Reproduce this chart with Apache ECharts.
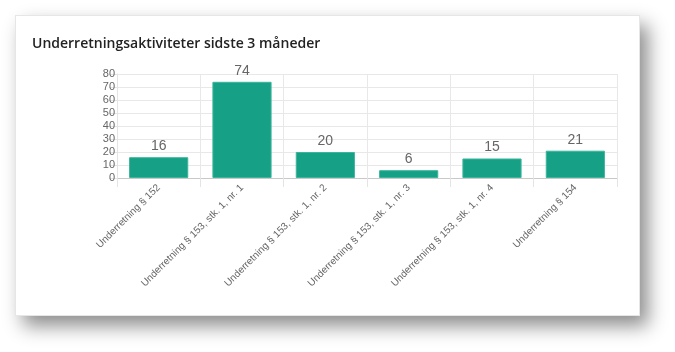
<!DOCTYPE html>
<html>
<head>
<meta charset="utf-8">
<script src="https://cdn.jsdelivr.net/npm/echarts@6/dist/echarts.min.js"></script>
<style>
  html, body { margin: 0; padding: 0; background: #fff; }
  body { width: 675px; height: 352px; position: relative; overflow: hidden; }
  .card {
    position: absolute; left: 15px; top: 15px; width: 625px; height: 301px;
    background: #fff; border: 1px solid #e6e6e6; box-sizing: border-box;
    box-shadow: 8px 10px 18px rgba(0, 0, 0, 0.45);
  }
  #chart { position: absolute; left: 0; top: 0; width: 675px; height: 352px; }
</style>
</head>
<body>
<div class="card"></div>
<div id="chart"></div>
<script>
const titleText = "Underretningsaktiviteter sidste 3 måneder";
const categories = [
  "Underretning § 152",
  "Underretning § 153, stk. 1, nr. 1",
  "Underretning § 153, stk. 1, nr. 2",
  "Underretning § 153, stk. 1, nr. 3",
  "Underretning § 153, stk. 1, nr. 4",
  "Underretning § 154",
];
const counts = [16, 74, 20, 6, 15, 21];

const chart = echarts.init(document.getElementById("chart"));
chart.setOption({
  animation: false,
  backgroundColor: "transparent",
  title: {
    text: titleText,
    left: 27,
    top: 32,
    textStyle: {
      fontFamily: "Open Sans",
      fontWeight: 600,
      fontSize: 14,
      color: "#222",
    },
  },
  grid: { left: 117, top: 74, width: 500, height: 104 },
  xAxis: {
    type: "category",
    data: categories,
    axisLine: { lineStyle: { color: "#c8c8c8" } },
    axisTick: { show: true, length: 9, lineStyle: { color: "#e4e4e4" } },
    splitLine: { show: true, lineStyle: { color: "#e8e8e8" } },
    axisLabel: {
      rotate: 45,
      interval: 0,
      margin: 8,
      fontFamily: "Liberation Sans",
      fontSize: 10,
      color: "#666",
    },
  },
  yAxis: {
    type: "value",
    min: 0,
    max: 80,
    interval: 10,
    axisLine: { show: true, lineStyle: { color: "#e4e4e4" } },
    axisTick: { show: true, length: 8, lineStyle: { color: "#e4e4e4" } },
    splitLine: { lineStyle: { color: "#e8e8e8" } },
    axisLabel: {
      margin: 2,
      fontFamily: "Liberation Sans",
      fontSize: 11,
      color: "#666",
    },
  },
  series: [
    {
      type: "bar",
      data: counts,
      barCategoryGap: "29%",
      itemStyle: { color: "#16a085", borderColor: "#3bb59b", borderWidth: 1 },
      label: {
        show: true,
        position: "top",
        distance: 4,
        fontFamily: "Liberation Sans",
        fontSize: 14,
        color: "#666",
      },
    },
  ],
});
</script>
</body>
</html>
